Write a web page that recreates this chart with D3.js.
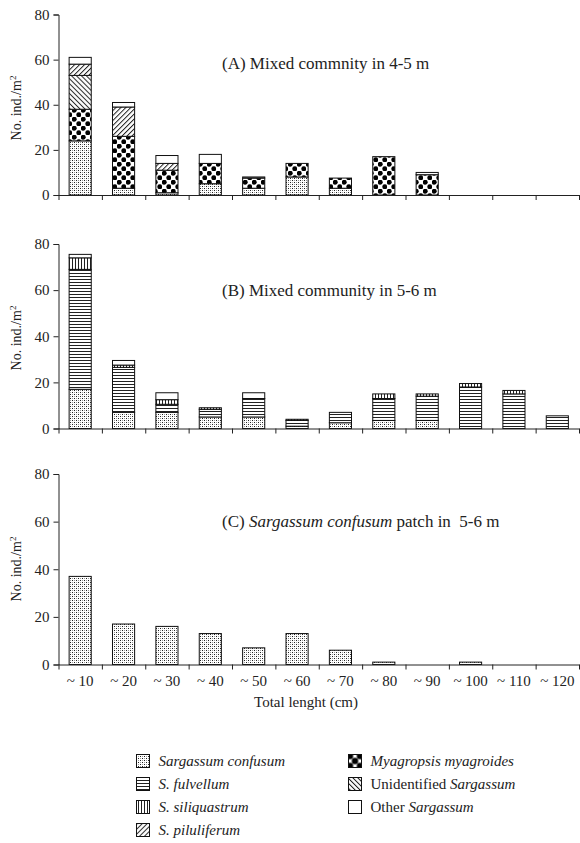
<!DOCTYPE html>
<html>
<head>
<meta charset="utf-8">
<script src="https://cdn.jsdelivr.net/npm/d3@7"></script>
<style>
  html, body { margin: 0; padding: 0; background: #fff; }
  svg { display: block; font-family: "Liberation Serif", "Times New Roman", serif; }
  text { fill: #222; }
</style>
</head>
<body>
<svg id="chart" width="580" height="843"></svg>
<script>
// ---------- data ----------
const categories = ["~ 10","~ 20","~ 30","~ 40","~ 50","~ 60","~ 70","~ 80","~ 90","~ 100","~ 110","~ 120"];
const yTicks = [0, 20, 40, 60, 80];

// Panel A: Mixed community 4-5 m
const aConfusum     = [24, 3, 1, 5, 3, 8, 3, 0, 0, 0, 0, 0];
const aMyagropsis   = [14, 23, 10, 9, 4.5, 6, 4.5, 17, 9, 0, 0, 0];
const aUnidentified = [15, 0, 0, 0, 0, 0, 0, 0, 0, 0, 0, 0];
const aPiluliferum  = [5, 13, 3, 0, 0, 0, 0, 0, 0, 0, 0, 0];
const aOther        = [3, 2, 3.5, 4, 0.5, 0, 0, 0, 1, 0, 0, 0];

// Panel B: Mixed community 5-6 m
const bConfusum     = [17, 7, 7, 5, 5, 1, 2.5, 3.5, 3.5, 0, 0, 0];
const bFulvellum    = [52, 19.5, 3.5, 3.3, 8, 2.5, 4.5, 9.5, 10.5, 18, 15, 5.5];
const bSiliquastrum = [5, 1, 2, 0.7, 0, 0.5, 0, 2, 1, 1.5, 1.5, 0];
const bOther        = [1.5, 2, 3, 0, 2.5, 0, 0, 0, 0, 0, 0, 0];

// Panel C: Sargassum confusum patch 5-6 m
const cConfusum     = [37, 17, 16, 13, 7, 13, 6, 1, 0, 1, 0, 0];

const keys = ["confusum","fulvellum","myagropsis","siliquastrum","unidentified","piluliferum","other"];

// ---------- svg / patterns ----------
const svg = d3.select("#chart");
const defs = svg.append("defs");

function pat(id, w, h, transform) {
  const p = defs.append("pattern").attr("id", id).attr("patternUnits", "userSpaceOnUse")
    .attr("width", w).attr("height", h);
  if (transform) p.attr("patternTransform", transform);
  p.append("rect").attr("width", w).attr("height", h).attr("fill", "#fff");
  return p;
}
let p;
p = pat("p-confusum", 4, 4);
[[0,0,"#222"],[2,2,"#222"],[2,0,"#9a9a9a"],[0,2,"#9a9a9a"]].forEach(([dx,dy,c]) =>
  p.append("rect").attr("x", dx).attr("y", dy).attr("width", 1).attr("height", 1).attr("fill", c));
p = pat("p-fulvellum", 4, 3);
p.append("rect").attr("x", 0).attr("y", 0).attr("width", 4).attr("height", 1).attr("fill", "#222");
p = pat("p-siliquastrum", 3, 4);
p.append("rect").attr("x", 0).attr("y", 0).attr("width", 1).attr("height", 4).attr("fill", "#222");
p = pat("p-piluliferum", 3.5, 4, "rotate(45)");
p.append("line").attr("x1", 0.5).attr("y1", 0).attr("x2", 0.5).attr("y2", 4).attr("stroke", "#222").attr("stroke-width", 1);
p = pat("p-unidentified", 3.5, 4, "rotate(-45)");
p.append("line").attr("x1", 0.5).attr("y1", 0).attr("x2", 0.5).attr("y2", 4).attr("stroke", "#222").attr("stroke-width", 1);
p = pat("p-myagropsis", 9, 9);
p.append("circle").attr("cx", 2.25).attr("cy", 2.25).attr("r", 2.45).attr("fill", "#000");
p.append("circle").attr("cx", 6.75).attr("cy", 6.75).attr("r", 2.45).attr("fill", "#000");

// legend-only Myagropsis swatch (big dots anchored to the swatch box)
const pl = defs.append("pattern").attr("id", "p-myagropsis-legend")
  .attr("patternUnits", "objectBoundingBox").attr("width", 1).attr("height", 1);
pl.append("rect").attr("width", 13).attr("height", 13).attr("fill", "#fff");
[[1.5,1.5],[11.5,1.5],[1.5,11.5],[11.5,11.5],[6.5,6.5]].forEach(([cx,cy]) =>
  pl.append("circle").attr("cx", cx).attr("cy", cy).attr("r", 3.2).attr("fill", "#000"));

const fillFor = k => k === "other" ? "#fff" : `url(#p-${k})`;

// ---------- scales ----------
const x = d3.scaleBand().domain(categories).range([58.5, 579]).paddingInner(0.49).paddingOuter(0.245);
const xEdges = d3.scaleLinear().domain([0, categories.length]).range([58.5, 579]);

const panels = [
  { id: "A", yRange: [195, 14.5], series: { confusum: aConfusum, myagropsis: aMyagropsis, unidentified: aUnidentified, piluliferum: aPiluliferum, other: aOther },
    titleY: 69, labelY: 108,
    title: [["(A) Mixed commnity in 4-5 m", false]] },
  { id: "B", yRange: [428.5, 244], series: { confusum: bConfusum, fulvellum: bFulvellum, siliquastrum: bSiliquastrum, other: bOther },
    titleY: 296, labelY: 338,
    title: [["(B) Mixed community in 5-6 m", false]] },
  { id: "C", yRange: [664.5, 474], series: { confusum: cConfusum },
    titleY: 527, labelY: 569,
    title: [["(C) ", false], ["Sargassum confusum", true], [" patch in  5-6 m", false]] }
];

panels.forEach((panel, pi) => {
  const y = d3.scaleLinear().domain([0, 80]).range(panel.yRange);
  const g = svg.append("g").attr("class", "panel-" + panel.id);

  const rows = categories.map((c, i) => {
    const r = { cat: c };
    keys.forEach(k => r[k] = panel.series[k] ? panel.series[k][i] : 0);
    return r;
  });
  const usedKeys = keys.filter(k => panel.series[k]);
  const stacked = d3.stack().keys(usedKeys)(rows);

  stacked.forEach(layer => {
    g.append("g").selectAll("rect")
      .data(layer.filter(d => d[1] - d[0] > 0))
      .join("rect")
      .attr("x", d => x(d.data.cat))
      .attr("y", d => y(d[1]))
      .attr("width", x.bandwidth())
      .attr("height", d => y(d[0]) - y(d[1]))
      .attr("fill", fillFor(layer.key))
      .attr("stroke", "#111")
      .attr("stroke-width", 1);
  });

  // y axis
  const yAxis = g.append("g").attr("transform", `translate(${x.range()[0]},0)`)
    .call(d3.axisLeft(y).tickValues(yTicks).tickSize(5).tickPadding(4));
  yAxis.selectAll("path,line").attr("stroke", "#222");
  yAxis.selectAll("text").attr("font-size", 15).attr("font-family", "Liberation Serif").attr("fill", "#222");

  // x axis
  const xAxis = g.append("g").attr("transform", `translate(0,${y(0)})`)
    .call(d3.axisBottom(xEdges).tickValues(d3.range(categories.length + 1)).tickFormat("").tickSize(5).tickSizeOuter(0));
  xAxis.selectAll("path,line").attr("stroke", "#222");

  if (pi === 2) {
    g.append("g").selectAll("text").data(categories).join("text")
      .attr("x", d => x(d) + x.bandwidth() / 2)
      .attr("y", y(0) + 21)
      .attr("text-anchor", "middle")
      .attr("font-size", 15)
      .text(d => d);
  }

  // y label
  const yl = g.append("text")
    .attr("transform", `translate(21,${panel.labelY}) rotate(-90)`)
    .attr("text-anchor", "middle")
    .attr("font-size", 14);
  yl.append("tspan").text("No. ind./m");
  yl.append("tspan").attr("font-size", 9).attr("dy", -5).text("2");

  // title
  const t = g.append("text").attr("x", 222).attr("y", panel.titleY).attr("font-size", 17)
    .style("white-space", "pre");
  panel.title.forEach(([s, it]) => t.append("tspan").attr("font-style", it ? "italic" : "normal").text(s));
});

// x title
svg.append("text").attr("x", 306).attr("y", 707).attr("text-anchor", "middle")
  .attr("font-size", 15).text("Total lenght (cm)");

// ---------- legend ----------
const legendItems = [
  { key: "confusum",     col: 0, row: 0, parts: [["Sargassum confusum", true]] },
  { key: "fulvellum",    col: 0, row: 1, parts: [["S. fulvellum", true]] },
  { key: "siliquastrum", col: 0, row: 2, parts: [["S. siliquastrum", true]] },
  { key: "piluliferum",  col: 0, row: 3, parts: [["S. piluliferum", true]] },
  { key: "myagropsis",   col: 1, row: 0, parts: [["Myagropsis myagroides", true]] },
  { key: "unidentified", col: 1, row: 1, parts: [["Unidentified ", false], ["Sargassum", true]] },
  { key: "other",        col: 1, row: 2, parts: [["Other ", false], ["Sargassum", true]] }
];
const colX = [136.5, 348.5];
const rowY = 754.5, rowStep = 23;
const lg = svg.append("g").attr("class", "legend");
legendItems.forEach(it => {
  const gx = colX[it.col], gy = rowY + it.row * rowStep;
  lg.append("rect").attr("x", gx).attr("y", gy).attr("width", 13).attr("height", 13)
    .attr("fill", it.key === "myagropsis" ? "url(#p-myagropsis-legend)" : fillFor(it.key))
    .attr("stroke", "#111").attr("stroke-width", 1);
  const t = lg.append("text").attr("x", gx + 22).attr("y", gy + 11.5).attr("font-size", 15)
    .style("white-space", "pre");
  it.parts.forEach(([s, ital]) => t.append("tspan").attr("font-style", ital ? "italic" : "normal").text(s));
});
</script>
</body>
</html>
